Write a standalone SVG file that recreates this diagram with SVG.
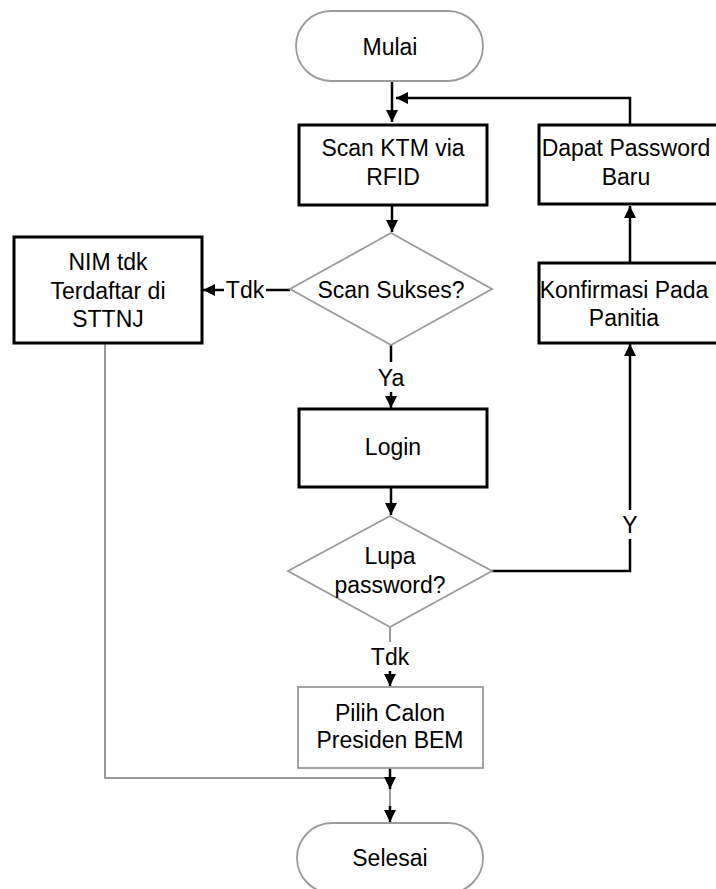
<svg xmlns="http://www.w3.org/2000/svg" width="716" height="889" viewBox="0 0 716 889">
<style>
text{font-family:"Liberation Sans",Arial,sans-serif;font-size:23px;fill:#000;text-anchor:middle}
.box{fill:#fff;stroke:#000;stroke-width:3}
.soft{fill:#fff;stroke:#9a9a9a;stroke-width:1.8}
.ln{fill:none;stroke:#000;stroke-width:2.5}
.thin{fill:none;stroke:#7a7a7a;stroke-width:1.5}
</style>
<defs>
<marker id="ah" markerUnits="userSpaceOnUse" markerWidth="12" markerHeight="14" refX="12" refY="6" orient="auto">
<path d="M0,0 L12,6 L0,12 Z" fill="#000"/>
</marker>
</defs>
<rect width="716" height="889" fill="#fff"/>
<g id="connectors">
<path class="ln" d="M392,81 V122" marker-end="url(#ah)"/>
<path class="ln" d="M630,124 V98 H396" marker-end="url(#ah)"/>
<path class="ln" d="M392,206 V232" marker-end="url(#ah)"/>
<path class="ln" d="M290,290 H266"/>
<path class="ln" d="M224,290 H203" marker-end="url(#ah)"/>
<text x="245" y="298">Tdk</text>
<path class="ln" d="M391,345 V362"/>
<text x="391" y="386">Ya</text>
<path class="ln" d="M391,392 V408" marker-end="url(#ah)"/>
<path class="ln" d="M391,488 V515" marker-end="url(#ah)"/>
<path class="ln" d="M492,571 H630 V539"/>
<text x="630" y="533">Y</text>
<path class="ln" d="M630,510 V344" marker-end="url(#ah)"/>
<path class="ln" d="M630,263 V206" marker-end="url(#ah)"/>
<path class="thin" d="M390,627 V642"/>
<text x="390" y="665">Tdk</text>
<path class="ln" d="M390,671 V686" marker-end="url(#ah)"/>
<path class="thin" d="M105,343 V778 H390"/>
<path class="ln" d="M390,768 V789" marker-end="url(#ah)"/>
<path class="thin" d="M390,789 V810"/>
<path class="ln" d="M390,806 V822" marker-end="url(#ah)"/>
</g>
<g id="mulai">
<rect class="soft" x="296" y="11" width="187" height="70" rx="35"/>
<text x="390" y="55">Mulai</text>
</g>
<g id="scan-ktm">
<rect class="box" x="299" y="125" width="188" height="80"/>
<text x="393" y="156">Scan KTM via</text>
<text x="393" y="185">RFID</text>
</g>
<g id="scan-sukses">
<polygon class="soft" points="391,233 492,289 391,345 290,289"/>
<text x="391" y="298">Scan Sukses?</text>
</g>
<g id="nim-tdk">
<rect class="box" x="14" y="237" width="188" height="106"/>
<text x="108" y="270">NIM tdk</text>
<text x="108" y="299">Terdaftar di</text>
<text x="108" y="327">STTNJ</text>
</g>
<g id="login">
<rect class="box" x="299" y="409" width="188" height="78"/>
<text x="393" y="455">Login</text>
</g>
<g id="lupa-password">
<polygon class="soft" points="390,516 492,571 390,627 288,571"/>
<text x="390" y="564">Lupa</text>
<text x="390" y="593">password?</text>
</g>
<g id="konfirmasi">
<rect class="box" x="539" y="263" width="184" height="80"/>
<text x="624" y="298">Konfirmasi Pada</text>
<text x="624" y="326">Panitia</text>
</g>
<g id="dapat-password">
<rect class="box" x="539" y="125" width="184" height="79"/>
<text x="626" y="156">Dapat Password</text>
<text x="626" y="185">Baru</text>
</g>
<g id="pilih-calon">
<rect class="soft" x="298" y="687" width="185" height="81"/>
<text x="390" y="721">Pilih Calon</text>
<text x="390" y="748">Presiden BEM</text>
</g>
<g id="selesai">
<rect class="soft" x="297" y="823" width="186" height="70" rx="35"/>
<text x="390" y="866">Selesai</text>
</g>
</svg>
